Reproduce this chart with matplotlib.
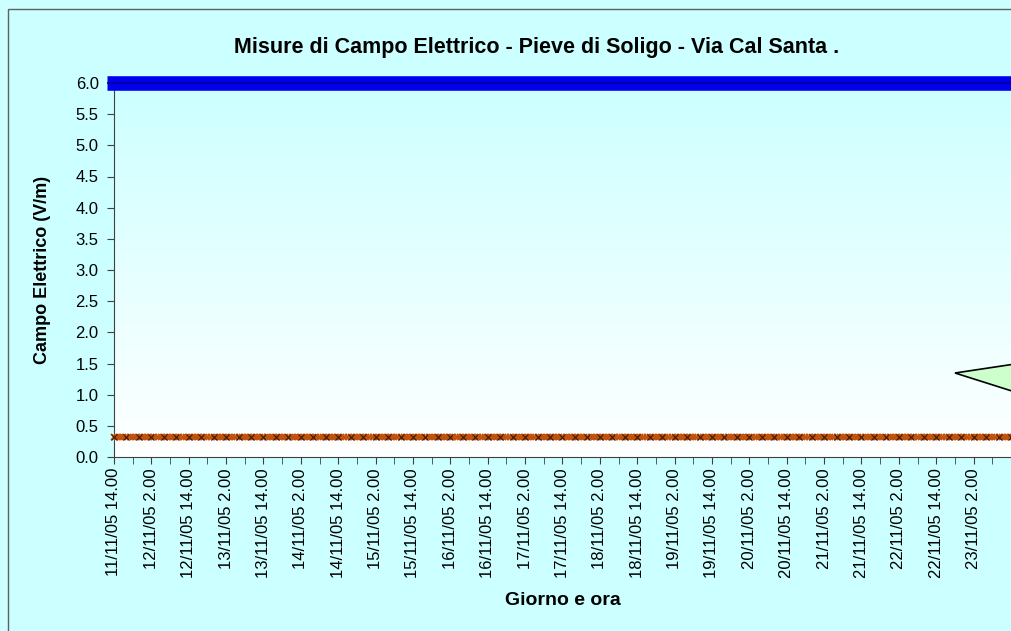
import numpy as np
import matplotlib.pyplot as plt
from matplotlib.patches import Rectangle, Polygon

plt.rcParams['font.family'] = ['Liberation Sans', 'DejaVu Sans']

# hours since 11/11/05 14.00, hourly readings
hours = np.arange(0, 289)
# meter reads a flat value over the whole campaign
field = [0.32] * len(hours)
limit_value = 6.0

tick_hours = list(range(0, 288, 12))
tick_labels = ['11/11/05 14.00', '12/11/05 2.00', '12/11/05 14.00', '13/11/05 2.00',
               '13/11/05 14.00', '14/11/05 2.00', '14/11/05 14.00', '15/11/05 2.00',
               '15/11/05 14.00', '16/11/05 2.00', '16/11/05 14.00', '17/11/05 2.00',
               '17/11/05 14.00', '18/11/05 2.00', '18/11/05 14.00', '19/11/05 2.00',
               '19/11/05 14.00', '20/11/05 2.00', '20/11/05 14.00', '21/11/05 2.00',
               '21/11/05 14.00', '22/11/05 2.00', '22/11/05 14.00', '23/11/05 2.00']

W, H = 1012, 631
fig = plt.figure(figsize=(W / 100, H / 100), dpi=100)
fig.patch.set_facecolor('#ccffff')

# chart area border (cropped on right and bottom)
fig.patches.append(Rectangle((8 / W, -0.1), 1.2, 1 - 9 / H + 0.1, transform=fig.transFigure,
                             fill=False, edgecolor='#606060', lw=1))

ax = fig.add_axes([114 / W, 1 - 457 / H, (1011 - 114) / W, (457 - 83) / H])
ax.set_xlim(0, 288)
ax.set_ylim(0, 6.0)

# gradient plot area: light cyan at top fading to white
grad = np.linspace(0, 1, 256).reshape(-1, 1)
top = np.array([0.80, 1.0, 1.0])
bot = np.array([1.0, 1.0, 1.0])
img = bot + (top - bot) * grad
ax.imshow(img.reshape(256, 1, 3), extent=[0, 288, 0, 6.0], origin='lower',
          aspect='auto', zorder=0)

ax.plot(hours, field, color='#e8680c', lw=2, marker='x', ms=5, mew=1.3,
        mec='#c0500a', zorder=3, clip_on=False)
ax.plot(hours[::4], field[::4], ls='none', marker='x', ms=4, mew=0.8,
        mec='#3a1a08', zorder=3, clip_on=False)
ax.axhline(limit_value, xmin=-0.0075, xmax=1, color='#0000ee', lw=10.5, clip_on=False,
           zorder=4, solid_capstyle='butt')
ax.axhline(limit_value, xmin=-0.0075, xmax=1, color='#000090', lw=1.2, clip_on=False,
           zorder=5, solid_capstyle='butt')

ax.set_xticks(tick_hours)
ax.set_xticklabels(tick_labels, rotation=90, fontsize=12)
ax.set_xticks(range(6, 288, 12), minor=True)
ax.tick_params(axis='x', which='both', direction='out', length=5, color='#404040', pad=3)
ax.set_yticks(np.arange(0, 6.01, 0.5))
ax.set_yticklabels([f'{v:.1f}' for v in np.arange(0, 6.01, 0.5)], fontsize=12)
ax.tick_params(axis='y', direction='out', length=5, color='#404040', pad=6)

for s in ['top', 'right']:
    ax.spines[s].set_visible(False)
for s in ['left', 'bottom']:
    ax.spines[s].set_color('#404040')

ax.set_ylabel('Campo Elettrico (V/m)', fontsize=13, fontweight='bold', labelpad=18)
ax.set_xlabel('Giorno e ora', fontsize=14, fontweight='bold', labelpad=10)
fig.text(537 / W, 1 - 47 / H, 'Misure di Campo Elettrico - Pieve di Soligo - Via Cal Santa .',
         ha='center', va='center', fontsize=15.5, fontweight='bold')

# callout pointer coming in from the right edge
fig.patches.append(Polygon([(955 / W, 1 - 373 / H), (1015 / W, 1 - 364 / H),
                            (1015 / W, 1 - 392 / H)], closed=True,
                           transform=fig.transFigure, facecolor='#ccffcc',
                           edgecolor='black', lw=1.2, zorder=10))

fig.savefig('out.png', dpi=100, facecolor=fig.get_facecolor())
